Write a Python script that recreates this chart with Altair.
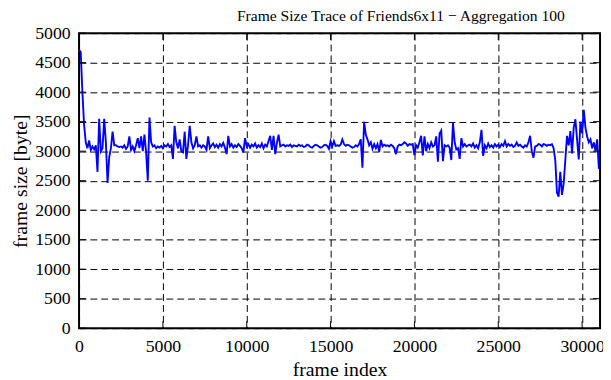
import altair as alt
import pandas as pd

# frame-size values (bytes), one per 100 frames
seg1 = [4720, 4680, 4000, 3450, 3150, 3050, 3180, 3020, 3080, 3030,
        3100, 2650, 3550, 3000, 3050, 3550, 3150, 2460, 2900, 3050,
        3330, 3100, 3100, 3080, 3070, 3080, 3060, 3100, 3040, 3080,
        3250, 3020, 3080, 3000, 3100, 3220, 3050, 3250, 3000, 3280,
        2980, 2500, 3570, 3150, 3080]
seg2 = [3100, 3050, 3080, 3060, 3090, 3050, 3100, 3080, 3120, 3070,
        3100, 2870, 3430, 3150, 3050, 3200, 3000, 2980, 3330, 2870,
        3100, 3430, 3150, 3050, 3100, 3250, 3080, 3100, 3060, 3100,
        3080, 3020, 3250, 3050, 3100]
seg3 = [3130, 3070, 3110, 3060, 3120, 3080, 3140, 3060, 2950, 3260,
        3080, 3120, 3060, 3100, 3070, 3120, 3090, 3050, 2980, 3220,
        3080, 3120, 3060, 3110, 3080, 3130, 3060, 3100, 3070, 3130,
        3050, 3110, 3080, 3170, 3260, 3020, 3260, 2950, 3140, 3280,
        3080]
seg4 = [3100, 3110, 3080, 3100, 3090, 3110, 3070, 3100, 3090,
        3080, 3110, 3090, 3100, 3070, 3080, 3110, 3100, 3070, 3060,
        3090, 3110, 3100, 3080, 3060, 3070, 3100, 3110, 3090, 3040,
        3170, 3080, 3170, 3090, 3100, 3090, 3110, 3200, 3120, 3090,
        3110, 3100, 3080, 3060, 3070, 3100, 3080, 3120]
seg5 = [3200, 2720, 3500, 3280, 3200, 3100, 3150, 3040, 3120, 3050,
        3120, 2990, 3190, 3080, 3110, 3090, 3100, 3080, 3110, 3090,
        3050, 2950, 3080, 3110, 3100, 3120]
seg6 = [3150, 3130, 3090, 3120, 3110, 3120,
        2930, 3100, 3060, 3150, 3260, 2930, 3250, 3000, 3120, 3050,
        3150, 3080, 3100, 3250, 2820, 3300, 3350, 2830, 3100, 3080,
        3100, 3060, 2850, 3480, 3150, 3030, 3050, 2870, 3220, 3080,
        3120, 3080, 3100, 3110]
seg7 = [3080, 3130, 3060, 3100, 3050, 3150,
        3360, 2920, 3100, 3050, 3130, 3070, 3100, 3060, 3120, 3080,
        3110, 3070, 3120, 3090, 3170, 3080, 3120, 3090, 3110, 3070,
        3090, 3150, 3090, 3110, 3080, 3060, 3100, 3080, 3150, 3260,
        3000, 2890, 3080]
seg8 = [3090, 3120, 3110, 3080, 3120, 3110, 3090,
        3110, 3100, 3120, 3050, 2850, 2300, 2230, 2650, 2260, 2450,
        2850, 3260, 3100, 3340, 2960, 3400, 3540, 3200, 2860, 3500,
        3300, 3700, 3400, 3250, 3150, 3200, 3050, 3150, 3000, 3200,
        2700]

sizes = seg1 + seg2 + seg3 + seg4 + seg5 + seg6 + seg7 + seg8
frames = [i * 100 for i in range(len(sizes))]

x_ticks = [0, 5000, 10000, 15000, 20000, 25000, 30000]
y_ticks = [0, 500, 1000, 1500, 2000, 2500, 3000, 3500, 4000, 4500, 5000]

df = pd.DataFrame({"frame": frames, "size": sizes})
xt = pd.DataFrame({"frame": x_ticks})
yt = pd.DataFrame({"size": y_ticks})

W, H = 528, 299
FONT = "Liberation Serif"
xs = alt.Scale(domain=[0, 31070], nice=False, zero=False)
ys = alt.Scale(domain=[0, 5000], nice=False)
x_axis = alt.Axis(values=x_ticks, title="frame index", grid=True, format="d",
                  labelPadding=10, titlePadding=4)
y_axis = alt.Axis(values=y_ticks, title="frame size [byte]", grid=True, format="d",
                  labelPadding=9, titlePadding=4)

line = alt.Chart(df).mark_line(color="#0000ff", strokeWidth=1.9).encode(
    x=alt.X("frame:Q", scale=xs, axis=x_axis),
    y=alt.Y("size:Q", scale=ys, axis=y_axis),
)

tick_len = 7
left_t = alt.Chart(yt).mark_rule(color="black", strokeWidth=1).encode(
    y=alt.Y("size:Q", scale=ys, axis=y_axis), x=alt.value(0), x2=alt.value(tick_len))
right_t = alt.Chart(yt).mark_rule(color="black", strokeWidth=1).encode(
    y=alt.Y("size:Q", scale=ys, axis=y_axis), x=alt.value(W - tick_len), x2=alt.value(W))
top_t = alt.Chart(xt).mark_rule(color="black", strokeWidth=1).encode(
    x=alt.X("frame:Q", scale=xs, axis=x_axis), y=alt.value(0), y2=alt.value(tick_len))
bot_t = alt.Chart(xt).mark_rule(color="black", strokeWidth=1).encode(
    x=alt.X("frame:Q", scale=xs, axis=x_axis), y=alt.value(H - tick_len), y2=alt.value(H))

chart = alt.layer(line, left_t, right_t, top_t, bot_t).properties(
    width=W, height=H,
    autosize="none",
    padding={"left": 72, "top": 23, "right": 3, "bottom": 49},
    background="white",
    title=alt.TitleParams(
        text="Frame Size Trace of Friends6x11 \u2212 Aggregation 100",
        font=FONT, fontSize=15.8, fontWeight="normal", color="black",
        anchor="start", frame="group", dx=160, offset=0),
).configure_view(
    stroke="black", strokeWidth=2
).configure_axis(
    domain=False, ticks=False, tickSize=0,
    labelFont=FONT, labelFontSize=18, labelColor="black",
    titleFont=FONT, titleFontSize=20, titleFontWeight="normal", titleColor="black",
    gridColor="black", gridDash=[7, 4], gridWidth=1, gridOpacity=1,
    labelFlush=False, labelOverlap=False,
)

chart.save("out.html", embed_options={"renderer": "svg", "actions": False})
